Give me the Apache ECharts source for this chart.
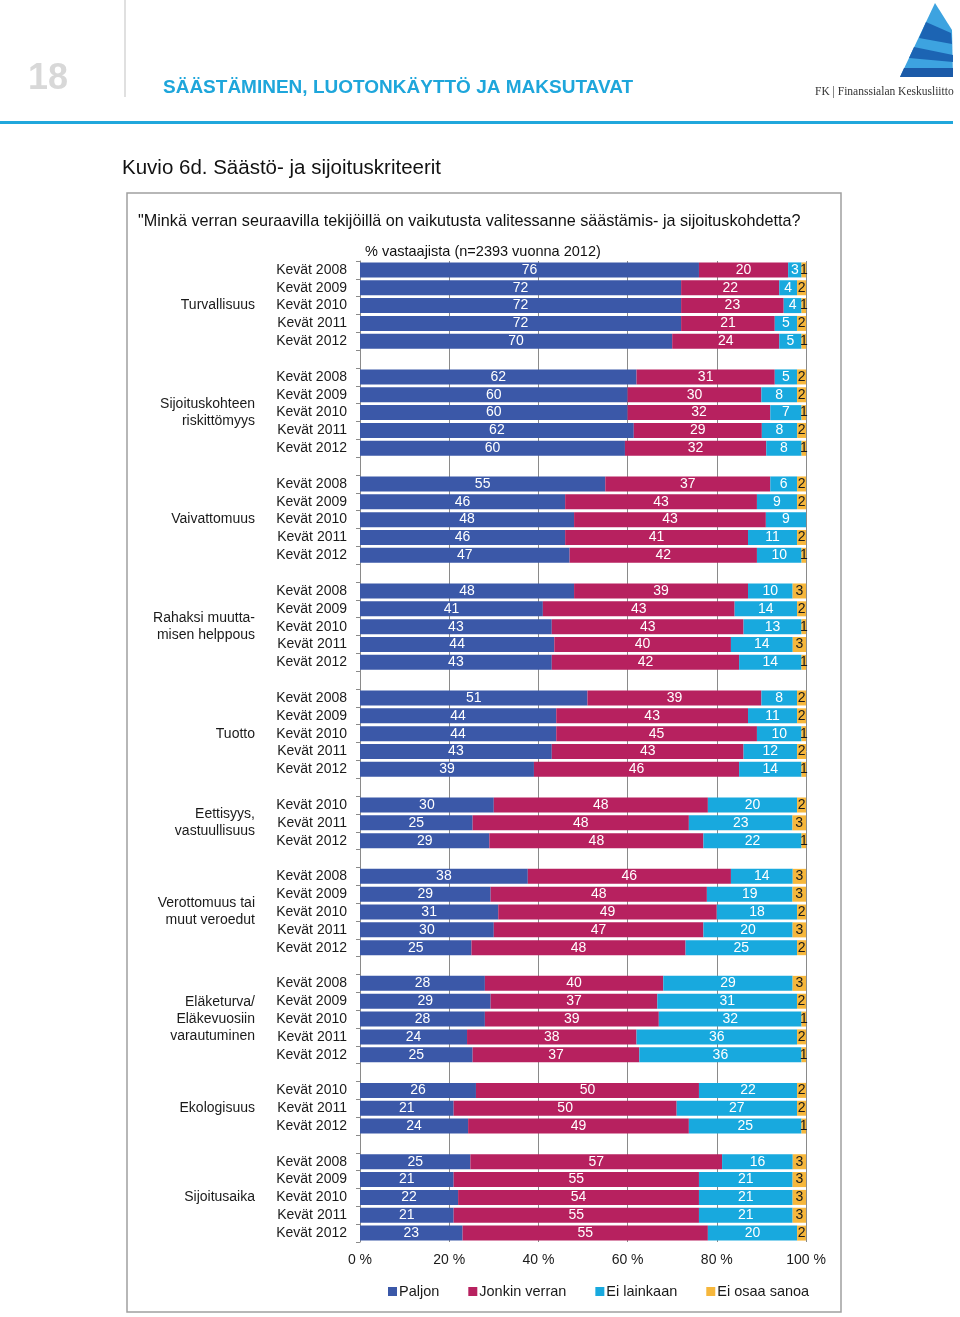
<!DOCTYPE html>
<html>
<head>
<meta charset="utf-8">
<script src="https://cdn.jsdelivr.net/npm/echarts@6/dist/echarts.min.js"></script>
<style>
html,body{margin:0;padding:0;background:#fff;}
#c{width:960px;height:1317px;}
</style>
</head>
<body>
<div id="c"></div>
<script>
// ---- Data ----
const groupNames = ['Turvallisuus','Sijoituskohteen\nriskittömyys','Vaivattomuus','Rahaksi muutta-\nmisen helppous','Tuotto','Eettisyys,\nvastuullisuus','Verottomuus tai\nmuut veroedut','Eläketurva/\nEläkevuosiin\nvarautuminen','Ekologisuus','Sijoitusaika'];
const groupYears = [
  [2008,2009,2010,2011,2012],
  [2008,2009,2010,2011,2012],
  [2008,2009,2010,2011,2012],
  [2008,2009,2010,2011,2012],
  [2008,2009,2010,2011,2012],
  [2010,2011,2012],
  [2008,2009,2010,2011,2012],
  [2008,2009,2010,2011,2012],
  [2010,2011,2012],
  [2008,2009,2010,2011,2012]
];
const seriesNames = ['Paljon','Jonkin verran','Ei lainkaan','Ei osaa sanoa'];
const paljon     = [76,72,72,72,70, 62,60,60,62,60, 55,46,48,46,47, 48,41,43,44,43, 51,44,44,43,39, 30,25,29, 38,29,31,30,25, 28,29,28,24,25, 26,21,24, 25,21,22,21,23];
const jonkin     = [20,22,23,21,24, 31,30,32,29,32, 37,43,43,41,42, 39,43,43,40,42, 39,43,45,43,46, 48,48,48, 46,48,49,47,48, 40,37,39,38,37, 50,50,49, 57,55,54,55,55];
const eiLainkaan = [3,4,4,5,5, 5,8,7,8,8, 6,9,9,11,10, 10,14,13,14,14, 8,11,10,12,14, 20,23,22, 14,19,18,20,25, 29,31,32,36,36, 22,27,25, 16,21,21,21,20];
const eiOsaa     = [1,2,1,2,1, 2,2,1,2,1, 2,2,0,2,1, 3,2,1,3,1, 2,2,1,2,1, 2,3,1, 3,3,2,3,2, 3,2,1,2,1, 2,2,1, 3,3,3,3,2];
const xTicks = [0,20,40,60,80,100];

// ---- Build rows (blank row between groups) ----
const yearCats = [], groupCats = [], rowIdx = [];
let k = 0;
groupNames.forEach((g, gi) => {
  if (gi > 0) { yearCats.push(''); groupCats.push(''); rowIdx.push(-1); }
  const ys = groupYears[gi];
  const mid = Math.floor(ys.length / 2);
  ys.forEach((y, yi) => {
    yearCats.push('Kevät ' + y);
    groupCats.push(yi === mid ? g : '');
    rowIdx.push(k++);
  });
});
const raw = [paljon, jonkin, eiLainkaan, eiOsaa];
function seriesData(si) {
  return rowIdx.map(r => {
    if (r < 0) return '-';
    const sum = raw[0][r] + raw[1][r] + raw[2][r] + raw[3][r];
    return { value: raw[si][r] / sum * 100, raw: raw[si][r] };
  });
}
const colors = ['#3b58a8', '#b7215f', '#18a9de', '#f6b73c'];
const labelColors = ['#ffffff', '#ffffff', '#ffffff', '#1a1a1a'];
const FONT = 'Liberation Sans, Arial, sans-serif';

const chart = echarts.init(document.getElementById('c'), null, { renderer: 'canvas' });
const option = {
  animation: false,
  textStyle: { fontFamily: FONT },
  color: colors,
  grid: { left: 360, right: 154, top: 261, bottom: 75, containLabel: false },
  legend: {
    data: seriesNames,
    left: 383, top: 1279,
    icon: 'rect', itemWidth: 9, itemHeight: 9, itemGap: 29,
    textStyle: { fontSize: 14.5, color: '#1a1a1a', fontFamily: FONT, padding: [0, 0, 0, -3] }
  },
  xAxis: {
    type: 'value', min: 0, max: 100, interval: 20,
    axisLine: { show: false }, axisTick: { show: false },
    axisLabel: { formatter: '{value} %', fontSize: 14, color: '#1a1a1a', margin: 11, fontFamily: FONT },
    splitLine: { show: true, lineStyle: { color: '#8a8a8a', width: 1 } }
  },
  yAxis: [
    {
      type: 'category', data: yearCats, inverse: true,
      axisLine: { show: true, lineStyle: { color: '#8a8a8a', width: 1 } },
      axisTick: { show: true, interval: 0, length: 4, lineStyle: { color: '#8a8a8a' } },
      axisLabel: { interval: 0, fontSize: 14, color: '#1a1a1a', margin: 13, fontFamily: FONT }
    },
    {
      type: 'category', data: groupCats, inverse: true, position: 'left', offset: 0,
      axisLine: { show: false }, axisTick: { show: false },
      axisLabel: { interval: 0, fontSize: 14, color: '#1a1a1a', margin: 105, align: 'right', lineHeight: 17, fontFamily: FONT }
    }
  ],
  series: seriesNames.map((n, si) => ({
    name: n, type: 'bar', stack: 'all', yAxisIndex: 0,
    barWidth: 15,
    data: seriesData(si),
    itemStyle: { color: colors[si] },
    label: {
      show: true, position: 'inside', color: labelColors[si], fontSize: 14, fontFamily: FONT,
      formatter: p => (p.data && p.data.raw > 0) ? String(p.data.raw) : ''
    }
  })),
  graphic: [
    // page number and header
    { type: 'text', left: 28, top: 61, style: { text: '18', fontSize: 36, fontWeight: 'bold', fill: '#d8d8d8', fontFamily: FONT } },
    { type: 'rect', shape: { x: 124, y: 0, width: 2, height: 97 }, style: { fill: '#e0e0e0' } },
    { type: 'text', left: 163, top: 78, style: { text: 'SÄÄSTÄMINEN, LUOTONKÄYTTÖ JA MAKSUTAVAT', fontSize: 19, fontWeight: 'bold', fill: '#1ea6db', fontFamily: FONT } },
    { type: 'rect', shape: { x: 0, y: 121, width: 953, height: 3 }, style: { fill: '#20a7dc' } },
    // logo
    { type: 'polygon', shape: { points: [[935,3],[952,30],[953,77],[900,77]] }, style: { fill: '#3da3e0' } },
    { type: 'polygon', shape: { points: [[926,22],[951,33],[952,44],[919,38]] }, style: { fill: '#1c64b3' } },
    { type: 'polygon', shape: { points: [[914,47],[953,55],[953,62],[909,58]] }, style: { fill: '#1c64b3' } },
    { type: 'polygon', shape: { points: [[904,68],[953,68],[953,77],[900,77]] }, style: { fill: '#1b5aa8' } },
    { type: 'text', left: 815, top: 86, style: { text: 'FK | Finanssialan Keskusliitto', fontSize: 11.5, fill: '#333333', fontFamily: 'Liberation Serif, serif' } },
    // title
    { type: 'text', left: 122, top: 158, style: { text: 'Kuvio 6d. Säästö- ja sijoituskriteerit', fontSize: 20.5, fill: '#111111', fontFamily: FONT } },
    // frame
    { type: 'rect', shape: { x: 127, y: 193, width: 714, height: 1119 }, style: { fill: 'none', stroke: '#a0a0a0', lineWidth: 1.5 } },
    { type: 'text', left: 138, top: 214, style: { text: '"Minkä verran seuraavilla tekijöillä on vaikutusta valitessanne säästämis- ja sijoituskohdetta?', fontSize: 16.2, fill: '#111111', fontFamily: FONT } },
    { type: 'text', left: 365, top: 244, style: { text: '% vastaajista (n=2393 vuonna 2012)', fontSize: 14.5, fill: '#111111', fontFamily: FONT } }
  ]
};
chart.setOption(option);
</script>
</body>
</html>
